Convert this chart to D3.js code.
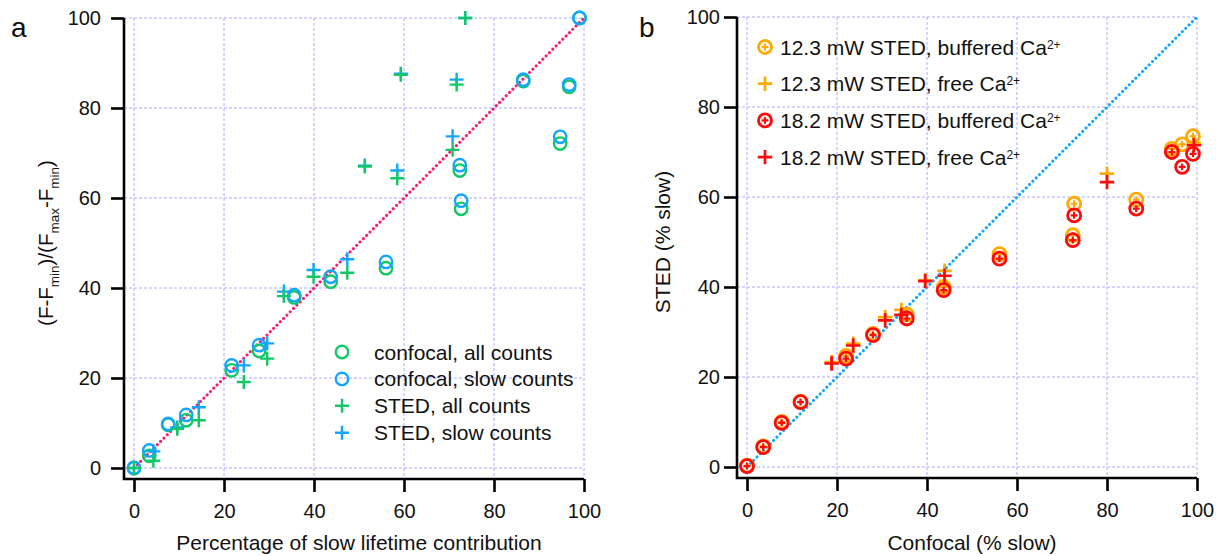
<!DOCTYPE html>
<html>
<head>
<meta charset="utf-8">
<script src="https://cdn.jsdelivr.net/npm/d3@7"></script>
<style>
  body { margin: 0; background: #fff; }
  svg { display: block; font-family: "Liberation Sans", Arial, sans-serif; }
</style>
</head>
<body>
<svg id="chart" width="1220" height="556"></svg>
<script>
// ---- panel a: normalised fluorescence vs slow lifetime fraction
const confX = [0, 3.4, 7.6, 11.6, 21.7, 27.8, 35.6, 43.7, 56, 72.4, 72.7, 86.5, 94.7, 96.7, 99];
const confAll = [0, 2.7, 9.6, 10.6, 21.7, 26.0, 37.9, 41.4, 44.4, 66.1, 57.6, 86.0, 72.1, 84.7, 100];
const confSlow = [0, 3.9, 9.8, 11.8, 22.8, 27.3, 38.4, 42.5, 45.8, 67.3, 59.4, 86.3, 73.6, 85.2, 100];
const stedX = [0, 4.3, 9.6, 14.4, 24.4, 29.6, 33.3, 39.9, 47.4, 51.3, 58.5, 59.3, 70.8, 71.7, 73.6];
const stedAll = [0, 1.6, 8.7, 10.6, 19.1, 24.3, 38.2, 42.5, 43.4, 67.0, 64.4, 87.4, 70.7, 85.2, 100];
const stedSlow = [0, 3.7, 9.0, 13.5, 22.8, 27.7, 39.2, 44.0, 46.4, 67.2, 66.1, 87.6, 73.7, 86.3, 100];

// ---- panel b: STED vs confocal slow fraction
const bufX = [0, 3.6, 7.7, 11.9, 22.0, 28.0, 35.5, 43.7, 56.1, 72.4, 72.7, 86.5, 94.4, 96.7, 99.1];
const buf123 = [0.3, 4.6, 10.0, 14.5, 24.7, 29.6, 33.9, 40.0, 47.3, 51.5, 58.5, 59.4, 70.7, 71.7, 73.5];
const buf182 = [0.2, 4.4, 9.8, 14.4, 24.1, 29.3, 33.0, 39.3, 46.3, 50.4, 55.9, 57.4, 70.0, 66.7, 69.6];
const freeX = [18.8, 23.6, 30.7, 34.3, 39.6, 43.9, 80.0, 99.3];
const free123 = [23.3, 27.4, 33.3, 34.9, 41.5, 43.6, 65.2, 72.0];
const free182 = [23.0, 27.0, 32.6, 33.8, 41.3, 42.5, 63.3, 71.5];

const ticks = [0, 20, 40, 60, 80, 100];

const colors = {
  green: "#12c865",
  blue: "#14a6ff",
  pink: "#ff1a6e",
  orange: "#ffaa00",
  red: "#ff0a0a",
  grid: "#aaaaff",
};

const svg = d3.select("#chart");

function makePanel({ left, top, yPad, letter, letterX }) {
  const x = d3.scaleLinear().domain([0, 100]).range([left, left + 450]);
  const y = d3.scaleLinear().domain([0, 100]).range([top + 450, top]);
  const axisX = x(0) - 10;
  const axisY = y(0) + 11;
  const g = svg.append("g");

  // dashed grid
  const grid = g
    .append("g")
    .attr("stroke", colors.grid)
    .attr("stroke-width", 1)
    .attr("stroke-dasharray", "3,2");
  grid
    .selectAll(".h")
    .data(ticks)
    .join("line")
    .attr("x1", axisX)
    .attr("x2", x(100))
    .attr("y1", (d) => y(d))
    .attr("y2", (d) => y(d));
  grid
    .selectAll(".v")
    .data(ticks)
    .join("line")
    .attr("x1", (d) => x(d))
    .attr("x2", (d) => x(d))
    .attr("y1", y(100))
    .attr("y2", axisY);

  // axes
  const xAxis = d3
    .axisBottom(x)
    .tickValues(ticks)
    .tickSize(13)
    .tickSizeOuter(0)
    .tickPadding(12);
  const yAxis = d3
    .axisLeft(y)
    .tickValues(ticks)
    .tickSize(13)
    .tickSizeOuter(0)
    .tickPadding(yPad);

  g.append("g")
    .attr("transform", `translate(0,${axisY})`)
    .call(xAxis)
    .call((a) => a.select(".domain").remove());
  g.append("g")
    .attr("transform", `translate(${axisX},0)`)
    .call(yAxis)
    .call((a) => a.select(".domain").remove());

  g.selectAll(".tick line").attr("stroke", "#000").attr("stroke-width", 2.6);
  g.selectAll(".tick text")
    .attr("font-size", 20)
    .attr("font-family", "Liberation Sans, Arial, sans-serif")
    .attr("fill", "#111");

  g.append("path")
    .attr("d", `M${axisX},${y(100)}V${axisY}H${x(100)}`)
    .attr("fill", "none")
    .attr("stroke", "#000")
    .attr("stroke-width", 2.6);

  svg
    .append("text")
    .attr("x", letterX)
    .attr("y", 37)
    .attr("font-size", 28)
    .attr("fill", "#111")
    .text(letter);

  return { g, x, y };
}

function diagonal(p, color) {
  p.g
    .append("line")
    .attr("x1", p.x(0))
    .attr("y1", p.y(0))
    .attr("x2", p.x(100))
    .attr("y2", p.y(100))
    .attr("stroke", color)
    .attr("stroke-width", 3)
    .attr("stroke-linecap", "round")
    .attr("stroke-dasharray", "0.1,4.6");
}

const plusPath = (s) => `M${-s},0H${s}M0,${-s}V${s}`;

function circles(p, xs, ys, color, r, sw) {
  p.g
    .append("g")
    .selectAll("circle")
    .data(xs.map((d, i) => [d, ys[i]]))
    .join("circle")
    .attr("cx", (d) => p.x(d[0]))
    .attr("cy", (d) => p.y(d[1]))
    .attr("r", r)
    .attr("fill", "none")
    .attr("stroke", color)
    .attr("stroke-width", sw);
}

function pluses(p, xs, ys, color, s, sw) {
  p.g
    .append("g")
    .selectAll("path")
    .data(xs.map((d, i) => [d, ys[i]]))
    .join("path")
    .attr("transform", (d) => `translate(${p.x(d[0])},${p.y(d[1])})`)
    .attr("d", plusPath(s))
    .attr("fill", "none")
    .attr("stroke", color)
    .attr("stroke-width", sw);
}

// ---------------- panel a
const pa = makePanel({ left: 134, top: 18, yPad: 10, letter: "a", letterX: 11 });
diagonal(pa, colors.pink);
circles(pa, confX, confAll, colors.green, 6.2, 2.4);
circles(pa, confX, confSlow, colors.blue, 6.2, 2.4);
pluses(pa, stedX, stedSlow, colors.blue, 7, 2.4);
pluses(pa, stedX, stedAll, colors.green, 7, 2.4);

svg
  .append("text")
  .attr("x", pa.x(50))
  .attr("y", 550)
  .attr("text-anchor", "middle")
  .attr("font-size", 21)
  .attr("fill", "#111")
  .text("Percentage of slow lifetime contribution");

const yTitleA = svg
  .append("text")
  .attr("transform", `translate(53,${pa.y(50)}) rotate(-90)`)
  .attr("text-anchor", "middle")
  .attr("font-size", 20.5)
  .attr("fill", "#111");
[
  ["(F-F", 0],
  ["min", 1],
  [")/(F", 0],
  ["max", 1],
  ["-F", 0],
  ["min", 1],
  [")", 0],
].forEach(([t, sub], i, arr) => {
  const prevSub = i > 0 ? arr[i - 1][1] : 0;
  yTitleA
    .append("tspan")
    .attr("font-size", sub ? 13.5 : 20.5)
    .attr("dy", sub ? 6 : prevSub ? -6 : 0)
    .text(t);
});

const legendA = [
  { label: "confocal, all counts", color: colors.green, shape: "circle" },
  { label: "confocal, slow counts", color: colors.blue, shape: "circle" },
  { label: "STED, all counts", color: colors.green, shape: "plus" },
  { label: "STED, slow counts", color: colors.blue, shape: "plus" },
];
const la = svg
  .append("g")
  .selectAll("g")
  .data(legendA)
  .join("g")
  .attr("transform", (d, i) => `translate(342,${352 + i * 26.9})`);
la.filter((d) => d.shape === "circle")
  .append("circle")
  .attr("r", 6.2)
  .attr("fill", "none")
  .attr("stroke", (d) => d.color)
  .attr("stroke-width", 2.4);
la.filter((d) => d.shape === "plus")
  .append("path")
  .attr("d", plusPath(7))
  .attr("stroke", (d) => d.color)
  .attr("stroke-width", 2.4);
la.append("text")
  .attr("x", 32)
  .attr("dy", "0.36em")
  .attr("font-size", 21)
  .attr("fill", "#111")
  .text((d) => d.label);

// ---------------- panel b
const pb = makePanel({ left: 747, top: 17, yPad: 4, letter: "b", letterX: 639 });
diagonal(pb, colors.blue);

function circlePlus(p, xs, ys, color) {
  circles(p, xs, ys, color, 6.5, 2.8);
  pluses(p, xs, ys, color, 3.4, 2.2);
}
circlePlus(pb, bufX, buf123, colors.orange);
pluses(pb, freeX, free123, colors.orange, 7.2, 2.7);
circlePlus(pb, bufX, buf182, colors.red);
pluses(pb, freeX, free182, colors.red, 7.2, 2.7);

svg
  .append("text")
  .attr("x", pb.x(50))
  .attr("y", 550)
  .attr("text-anchor", "middle")
  .attr("font-size", 21)
  .attr("fill", "#111")
  .text("Confocal (% slow)");

svg
  .append("text")
  .attr("transform", `translate(670,${pb.y(50)}) rotate(-90)`)
  .attr("text-anchor", "middle")
  .attr("font-size", 21)
  .attr("fill", "#111")
  .text("STED (% slow)");

const legendB = [
  { label: "12.3 mW STED, buffered Ca", color: colors.orange, shape: "circle" },
  { label: "12.3 mW STED, free Ca", color: colors.orange, shape: "plus" },
  { label: "18.2 mW STED, buffered Ca", color: colors.red, shape: "circle" },
  { label: "18.2 mW STED, free Ca", color: colors.red, shape: "plus" },
];
const lb = svg
  .append("g")
  .selectAll("g")
  .data(legendB)
  .join("g")
  .attr("transform", (d, i) => `translate(765,${47 + i * 36.7})`);
lb.filter((d) => d.shape === "circle")
  .call((s) =>
    s
      .append("circle")
      .attr("r", 6.5)
      .attr("fill", "none")
      .attr("stroke", (d) => d.color)
      .attr("stroke-width", 2.8)
  )
  .append("path")
  .attr("d", plusPath(3.4))
  .attr("stroke", (d) => d.color)
  .attr("stroke-width", 2.2);
lb.filter((d) => d.shape === "plus")
  .append("path")
  .attr("d", plusPath(7.2))
  .attr("stroke", (d) => d.color)
  .attr("stroke-width", 2.7);
const lbText = lb
  .append("text")
  .attr("x", 15)
  .attr("dy", "0.36em")
  .attr("font-size", 21)
  .attr("fill", "#111");
lbText.append("tspan").text((d) => d.label);
lbText.append("tspan").attr("font-size", 12).attr("dy", -6).text("2+");
</script>
</body>
</html>
